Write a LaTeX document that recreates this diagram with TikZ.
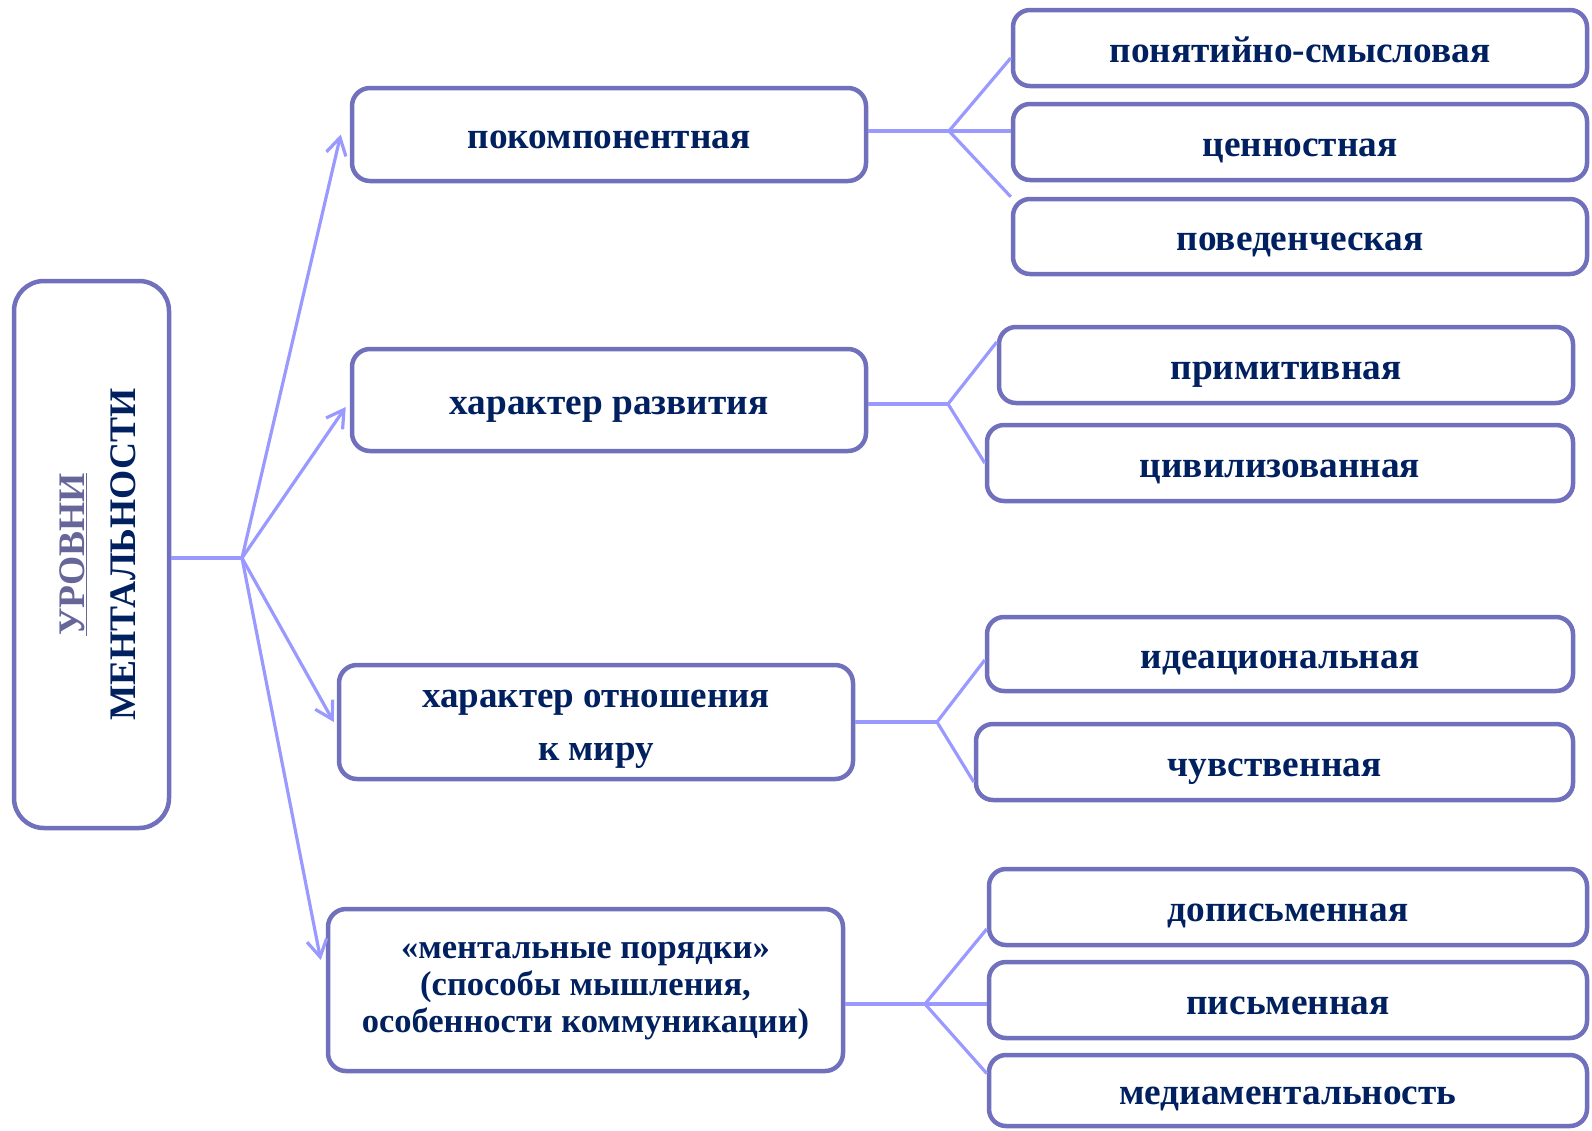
\documentclass[tikz,border=0pt]{standalone}
\usepackage{fontspec}
\setmainfont{Liberation Serif}
\usetikzlibrary{positioning,arrows.meta,calc}
\definecolor{boxline}{RGB}{112,112,188}
\definecolor{linkline}{RGB}{153,153,255}
\definecolor{navy}{RGB}{0,32,96}
\definecolor{greyviolet}{RGB}{102,102,153}

\begin{document}
\begin{tikzpicture}[x=1pt, y=-1pt,
        rootbox/.style={rectangle, rounded corners=30pt, draw=boxline, line width=4.5pt, inner sep=0pt, minimum width=155pt, minimum height=547pt, align=center},
        levelbox/.style={rectangle, rounded corners=18pt, draw=boxline, line width=4.5pt, inner sep=0pt, minimum width=514pt, text=navy, align=center, text height=28pt, text depth=0pt, font=\bfseries\fontsize{37.3}{43}\selectfont},
        kindbox/.style={rectangle, rounded corners=17pt, draw=boxline, line width=4.5pt, inner sep=0pt, minimum height=76pt, text=navy, align=center, text height=28pt, text depth=0pt, font=\bfseries\fontsize{37.3}{43}\selectfont},
        link/.style={draw=linkline, line width=3.2pt},
        arrow/.style={link, -{Straight Barb[length=17pt,width=20pt]}}
    ]
    \useasboundingbox (0,0) rectangle (1592,1130);

    % Left - main box
    \node[rootbox] (root) at (91.5,554.5) {\rotatebox{90}{\raisebox{-14.5pt}[0pt][0pt]{\bfseries\fontsize{37.5}{51}\selectfont
        \begin{tabular}{@{}c@{}}{\color{greyviolet}\underline{УРОВНИ}}\\ \color{navy}МЕНТАЛЬНОСТИ\end{tabular}}}};

    % Middle - four levels
    \node[levelbox, minimum height=93pt] (compo) at (609,134.5) {покомпонентная};
    \node[levelbox, minimum height=102pt] (devel) at (609,400) {характер развития};
    \node[levelbox, minimum height=114pt, text height=76pt, font=\bfseries\fontsize{37}{53}\selectfont] (world) at (596,722) {характер отношения\\к миру};
    \node[levelbox, minimum width=515pt, minimum height=162pt, text height=85pt, font=\bfseries\fontsize{34.5}{37}\selectfont] (orders) at (585.5,990) {«ментальные порядки»\\(способы мышления,\\особенности коммуникации)};

    % Right - kinds
    \node[kindbox, minimum width=574pt] (concept) at (1300,48) {понятийно-смысловая};
    \node[kindbox, minimum width=574pt] (value) at (1300,142) {ценностная};
    \node[kindbox, minimum width=574pt, minimum height=75pt] (behav) at (1300,236.5) {поведенческая};
    \node[kindbox, minimum width=574pt] (primit) at (1286,365) {примитивная};
    \node[kindbox, minimum width=586pt] (civil) at (1280,463) {цивилизованная};
    \node[kindbox, minimum width=586pt, minimum height=74pt] (idea) at (1280,654) {идеациональная};
    \node[kindbox, minimum width=597pt] (sense) at (1274.5,762) {чувственная};
    \node[kindbox, minimum width=598pt] (prewrit) at (1288,907) {дописьменная};
    \node[kindbox, minimum width=598pt] (writ) at (1288,1000) {письменная};
    \node[kindbox, minimum width=598pt, minimum height=71pt] (media) at (1288,1090.5) {медиаментальность};

    % Branch points
    \coordinate (hub) at (242,558);
    \coordinate (hubA) at (949,131);
    \coordinate (hubB) at (948,404);
    \coordinate (hubC) at (937,722);
    \coordinate (hubD) at (925,1004);

    % Arrows from the main box
    \draw[link] (root.east |- hub) -- (hub);
    \draw[arrow] (hub) -- ([xshift=-9pt]compo.west);
    \draw[arrow] (hub) -- ([shift={(-4pt,-7pt)}]devel.west);
    \draw[arrow] (hub) -- ([xshift=-3pt]world.west);
    \draw[arrow] (hub) -- ([shift={(-5pt,30pt)}]orders.west);

    % Forks to the kinds
    \draw[link] (compo.east |- hubA) -- (hubA);
    \draw[link] (hubA) -- ([yshift=-10pt]concept.west);
    \draw[link] (hubA) -- (value.west |- hubA);
    \draw[link] (hubA) -- (behav.north west);

    \draw[link] (devel.east |- hubB) -- (hubB);
    \draw[link] (hubB) -- ([yshift=23pt]primit.west);
    \draw[link] (hubB) -- (civil.west);

    \draw[link] (world.east |- hubC) -- (hubC);
    \draw[link] (hubC) -- ([yshift=-6pt]idea.west);
    \draw[link] (hubC) -- ([yshift=-20pt]sense.west);

    \draw[link] (orders.east |- hubD) -- (hubD);
    \draw[link] (hubD) -- ([yshift=-22pt]prewrit.west);
    \draw[link] (hubD) -- (writ.west |- hubD);
    \draw[link] (hubD) -- ([yshift=17pt]media.west);

\end{tikzpicture}
\end{document}
